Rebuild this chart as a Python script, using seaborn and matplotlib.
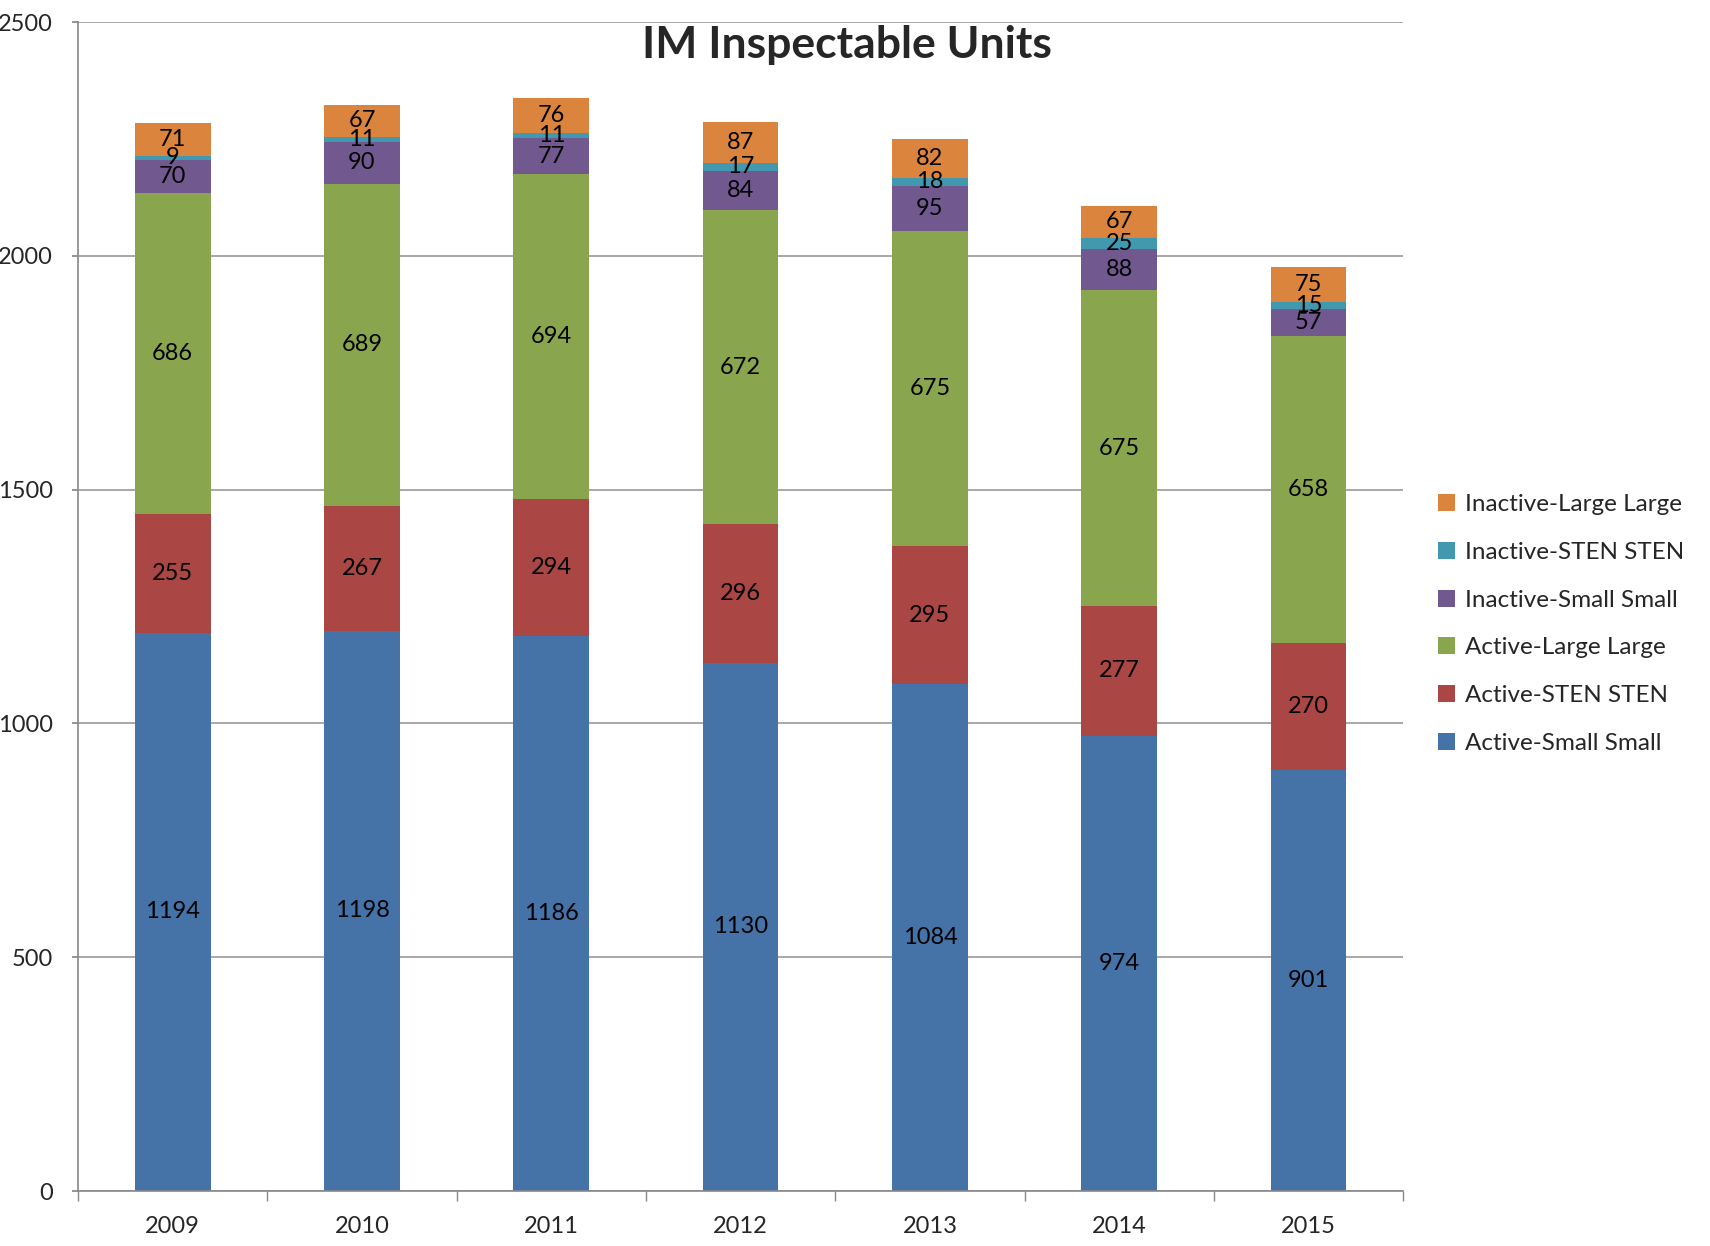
import numpy as np
import pandas as pd
import matplotlib
matplotlib.use("Agg")
import matplotlib.pyplot as plt
import seaborn as sns

# chart data
years = ["2009", "2010", "2011", "2012", "2013", "2014", "2015"]
active_small = [1194, 1198, 1186, 1130, 1084, 974, 901]
active_sten = [255, 267, 294, 296, 295, 277, 270]
active_large = [686, 689, 694, 672, 675, 675, 658]
inactive_small = [70, 90, 77, 84, 95, 88, 57]
inactive_sten = [9, 11, 11, 17, 18, 25, 15]
inactive_large = [71, 67, 76, 87, 82, 67, 75]

series_names = ["Active-Small Small", "Active-STEN STEN", "Active-Large Large",
                "Inactive-Small Small", "Inactive-STEN STEN", "Inactive-Large Large"]
series_values = [active_small, active_sten, active_large,
                 inactive_small, inactive_sten, inactive_large]
colors = ["#4572A7", "#AA4643", "#89A54E", "#71588F", "#4198AF", "#DB843D"]

sns.set_theme(style="white")
plt.rcParams["font.family"] = ["Lato", "DejaVu Sans"]

fig = plt.figure(figsize=(17.1, 12.46), dpi=100)
ax = fig.add_axes([0.0456, 0.0441, 0.775, 0.9382])

bottom = np.zeros(len(years))
for name, vals, col in zip(series_names, series_values, colors):
    df = pd.DataFrame({"year": years, "value": vals})
    sns.barplot(data=df, x="year", y="value", bottom=bottom, color=col,
                width=0.4, label=name, ax=ax, saturation=1, edgecolor="none")
    bottom = bottom + np.array(vals)

for cont in ax.containers:
    ax.bar_label(cont, label_type="center", fontsize=17, color="black")

ax.set_ylim(0, 2500)
ax.set_xlim(-0.5, 6.5)
ax.set_yticks(range(0, 2501, 500))
ax.yaxis.grid(True, color="#999999", linewidth=1.2)
ax.set_axisbelow(True)
ax.set_xlabel("")
ax.set_ylabel("")

for s in ["top", "right"]:
    ax.spines[s].set_visible(False)
for s in ["left", "bottom"]:
    ax.spines[s].set_color("#888888")
    ax.spines[s].set_linewidth(1.2)

ax.tick_params(axis="y", left=True, length=4.3, color="#888888", labelsize=17, pad=14)
ax.set_xticks(np.arange(-0.5, 7.0, 1.0), minor=True)
ax.tick_params(axis="x", which="major", bottom=False, labelsize=17, pad=12)
ax.tick_params(axis="x", which="minor", bottom=True, length=7, color="#888888")

fig.text(0.495, 0.964, "IM Inspectable Units", ha="center", va="center",
         fontsize=32, fontweight="bold")

handles, labels = ax.get_legend_handles_labels()
ax.legend(handles[::-1], labels[::-1], loc="center left", bbox_to_anchor=(1.01, 0.485),
          frameon=False, fontsize=17.5, handlelength=0.7, handleheight=0.7,
          handletextpad=0.4, labelspacing=1.1)

fig.savefig("out.png", dpi=100)
